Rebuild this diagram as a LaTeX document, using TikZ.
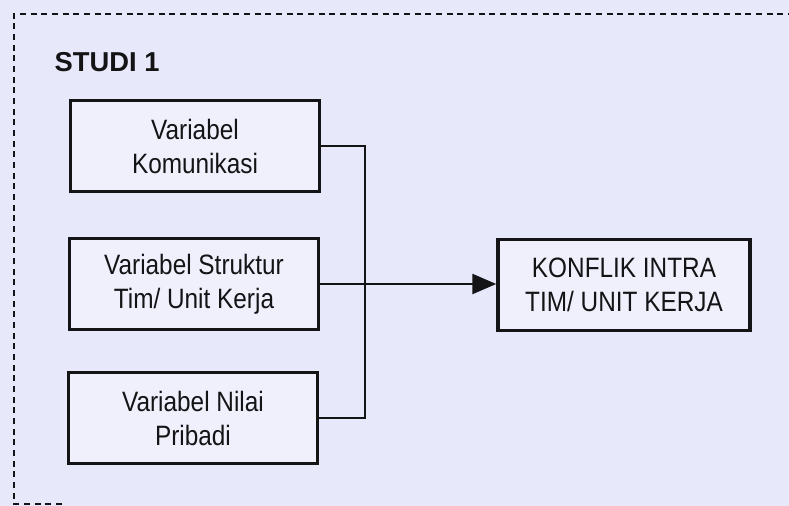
\documentclass[tikz,border=0pt]{standalone}
\usepackage{fontspec}
\setmainfont{Liberation Sans}
\newfontfamily\boxfont{Liberation Sans}[FakeStretch=0.87]
\usetikzlibrary{arrows.meta}
\definecolor{paper}{RGB}{231,233,251}
\definecolor{ink}{RGB}{20,20,22}
\tikzset{
  varbox/.style={draw=ink, line width=2.6pt, fill=white, fill opacity=0.35, text opacity=1,
    minimum width=187pt, minimum height=68pt, inner sep=0pt, align=center,
    font=\boxfont\fontsize{21}{25.5}\selectfont, text=ink},
  link/.style={draw=ink, line width=1.9pt},
  frame/.style={draw=ink, line width=1.1pt, dash pattern=on 4.5pt off 3.5pt}
}
\begin{document}
\begin{tikzpicture}[x=0.75pt,y=-0.75pt]
  % page and paper tint
  \fill[paper] (0,0) rectangle (789,506);
  \useasboundingbox (0,0) rectangle (789,506);

  % dashed frame around the study
  \draw[frame] (62,504) -- (14,504) -- (14,14) -- (789,14);

  % title
  \node[anchor=west, font=\bfseries\fontsize{20.5}{22}\selectfont, text=ink] (title) at (50,62) {STUDI 1};

  % variable boxes
  \node[varbox] (kom) at (195,146) {Variabel\\Komunikasi};
  \node[varbox] (str) at (194,284) {Variabel Struktur\\Tim/ Unit Kerja};
  \node[varbox] (nil) at (193,418) {Variabel Nilai\\Pribadi};

  % outcome box
  \node[varbox, minimum width=189pt] (kon) at (624,285) {KONFLIK INTRA\\TIM/ UNIT KERJA};

  % connectors
  \coordinate (bus) at (365,284);
  \draw[link] (kom.east) -| (bus);
  \draw[link] (nil.east) -| (bus);
  \draw[link, -{Triangle[length=18pt, width=15pt]}] (str.east) -- (str.east -| kon.west);
\end{tikzpicture}
\end{document}
